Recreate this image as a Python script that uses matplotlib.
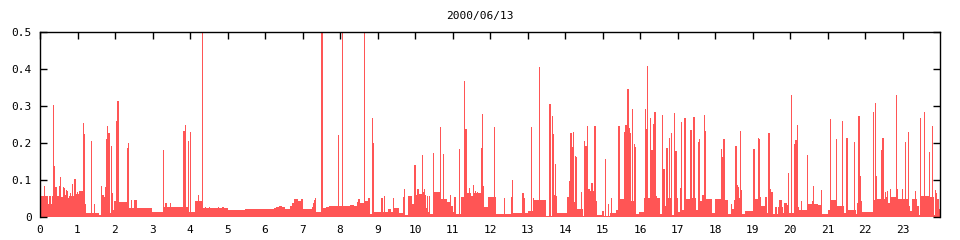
import matplotlib
matplotlib.use('Agg')
import matplotlib.pyplot as plt
import numpy as np

# background level: (start hour, value) step segments
base_t = [0.00, 0.03, 0.21, 0.24, 0.29, 0.32, 0.55, 0.62, 0.72, 0.78, 0.95, 1.05,
          1.20, 1.23, 1.58, 1.63, 1.70, 1.83, 1.92, 1.95, 1.97, 2.08, 2.37, 2.99,
          3.27, 3.98, 4.18, 4.34, 5.00, 5.47, 6.24, 6.30, 6.37, 6.45, 6.52, 6.67,
          6.72, 6.77, 6.88, 6.96, 7.01, 7.25, 7.28, 7.30, 7.33, 7.36, 7.55, 7.63,
          7.70, 7.80, 8.27, 8.37, 8.45, 8.48, 8.53, 8.67, 8.74, 8.80, 8.91, 9.10,
          9.15, 9.28, 9.35, 9.45, 9.58, 9.68, 9.73, 9.82, 9.93, 10.02, 10.12, 10.23,
          10.28, 10.31, 10.35, 10.37, 10.40, 10.50, 10.70, 10.85, 10.95, 11.00, 11.03, 11.08,
          11.22, 11.38, 11.50, 11.58, 11.83, 11.95, 12.15, 12.62, 12.75, 13.00, 13.15, 13.50,
          13.75, 14.05, 14.30, 14.47, 14.55, 14.78, 14.84, 14.98, 15.05, 15.20, 15.35, 15.42,
          15.47, 15.56, 15.60, 15.66, 15.73, 15.76, 15.83, 15.88, 15.98, 16.10, 16.31, 16.44,
          16.52, 16.62, 16.64, 16.70, 16.85, 16.92, 16.98, 17.00, 17.07, 17.12, 17.23, 17.32,
          17.38, 17.48, 17.52, 17.58, 17.60, 17.66, 17.74, 17.91, 17.99, 18.20, 18.27, 18.35,
          18.42, 18.45, 18.51, 18.61, 18.63, 18.70, 18.72, 18.80, 19.06, 19.08, 19.20, 19.23,
          19.32, 19.38, 19.41, 19.46, 19.55, 19.60, 19.65, 19.68, 19.70, 19.78, 19.80, 19.84,
          19.92, 19.97, 20.06, 20.13, 20.18, 20.23, 20.48, 20.75, 20.86, 21.00, 21.02, 21.09,
          21.26, 21.45, 21.55, 21.75, 21.78, 21.90, 21.92, 22.25, 22.30, 22.52, 22.60, 22.68,
          22.85, 23.17, 23.21, 23.25, 23.38, 23.44, 23.50, 23.70, 23.83, 23.88, 23.93, 23.96]
base_v = [0.025, 0.056, 0.034, 0.056, 0.035, 0.058, 0.053, 0.060, 0.052, 0.058, 0.062, 0.070,
          0.035, 0.010, 0.006, 0.060, 0.055, 0.011, 0.065, 0.019, 0.043, 0.040, 0.024, 0.014,
          0.027, 0.014, 0.042, 0.024, 0.019, 0.022, 0.024, 0.027, 0.030, 0.026, 0.022, 0.030,
          0.037, 0.049, 0.044, 0.049, 0.022, 0.027, 0.038, 0.046, 0.051, 0.014, 0.024, 0.027,
          0.029, 0.030, 0.032, 0.030, 0.040, 0.049, 0.038, 0.044, 0.051, 0.009, 0.014, 0.051,
          0.013, 0.022, 0.013, 0.024, 0.012, 0.055, 0.005, 0.056, 0.035, 0.014, 0.063, 0.060,
          0.024, 0.057, 0.014, 0.057, 0.008, 0.068, 0.050, 0.040, 0.030, 0.014, 0.055, 0.008,
          0.054, 0.065, 0.056, 0.066, 0.027, 0.055, 0.008, 0.012, 0.010, 0.016, 0.045, 0.004,
          0.012, 0.012, 0.022, 0.004, 0.070, 0.042, 0.005, 0.016, 0.004, 0.012, 0.019, 0.004,
          0.050, 0.230, 0.250, 0.240, 0.228, 0.043, 0.190, 0.008, 0.014, 0.051, 0.057, 0.051,
          0.008, 0.084, 0.030, 0.051, 0.005, 0.070, 0.051, 0.014, 0.078, 0.020, 0.049, 0.042,
          0.051, 0.020, 0.020, 0.005, 0.043, 0.059, 0.050, 0.011, 0.049, 0.008, 0.047, 0.009,
          0.035, 0.021, 0.046, 0.080, 0.051, 0.073, 0.008, 0.016, 0.022, 0.050, 0.055, 0.030,
          0.054, 0.010, 0.035, 0.068, 0.008, 0.027, 0.008, 0.027, 0.045, 0.027, 0.010, 0.038,
          0.032, 0.012, 0.012, 0.050, 0.027, 0.019, 0.035, 0.032, 0.008, 0.049, 0.019, 0.046,
          0.030, 0.010, 0.019, 0.008, 0.037, 0.043, 0.014, 0.046, 0.050, 0.055, 0.038, 0.055,
          0.050, 0.030, 0.015, 0.050, 0.030, 0.006, 0.058, 0.055, 0.005, 0.065, 0.050, 0.022]

# narrow peaks: (hour, value)
spike_t = [0.13, 0.35, 0.38, 0.41, 0.44, 0.52, 0.55, 0.63, 0.66, 0.71, 0.74, 0.82, 0.87, 0.92,
           0.95, 1.00, 1.16, 1.18, 1.37, 1.45, 1.65, 1.75, 1.78, 1.81, 1.84, 1.91, 2.05, 2.08,
           2.33, 2.36, 2.43, 2.53, 2.56, 3.29, 3.36, 3.48, 3.84, 3.87, 3.89, 3.95, 4.01, 4.16,
           4.23, 4.33, 4.42, 4.53, 4.75, 4.88, 7.52, 7.96, 8.07, 8.65, 8.87, 8.90, 9.19, 9.42,
           9.71, 9.98, 10.00, 10.03, 10.08, 10.20, 10.23, 10.26, 10.49, 10.67, 10.75, 10.84, 10.94,
           11.19, 11.33, 11.36, 11.38, 11.46, 11.55, 11.62, 11.66, 11.77, 11.79, 11.82, 12.12,
           12.39, 12.58, 12.61, 12.88, 12.93, 13.11, 13.17, 13.33, 13.60, 13.66, 13.68, 13.71,
           13.74, 13.77, 14.08, 14.13, 14.16, 14.19, 14.22, 14.24, 14.27, 14.30, 14.45, 14.53,
           14.56, 14.59, 14.61, 14.64, 14.72, 14.80, 15.07, 15.17, 15.23, 15.44, 15.68, 15.79,
           15.85, 15.87, 16.14, 16.16, 16.19, 16.21, 16.29, 16.32, 16.37, 16.40, 16.59, 16.61,
           16.64, 16.72, 16.78, 16.83, 16.91, 16.96, 17.10, 17.20, 17.22, 17.36, 17.38, 17.44,
           17.55, 17.58, 17.71, 17.74, 18.17, 18.20, 18.24, 18.56, 18.60, 18.67, 18.69, 19.04,
           19.15, 19.18, 19.44, 19.46, 19.49, 19.51, 19.95, 20.03, 20.05, 20.11, 20.16, 20.21,
           20.30, 20.47, 20.60, 20.63, 20.83, 21.07, 21.24, 21.41, 21.52, 21.73, 21.84, 21.86,
           21.89, 22.22, 22.27, 22.30, 22.43, 22.48, 22.54, 22.61, 22.68, 22.83, 22.86, 23.00,
           23.09, 23.15, 23.34, 23.48, 23.59, 23.73, 23.81, 23.89]
spike_v = [0.083, 0.303, 0.139, 0.080, 0.080, 0.084, 0.108, 0.081, 0.079, 0.073, 0.070, 0.065,
           0.089, 0.103, 0.103, 0.068, 0.254, 0.224, 0.205, 0.035, 0.084, 0.081, 0.210, 0.246,
           0.227, 0.192, 0.260, 0.313, 0.187, 0.200, 0.047, 0.047, 0.047, 0.181, 0.038, 0.038,
           0.232, 0.049, 0.248, 0.205, 0.229, 0.043, 0.059, 0.500, 0.027, 0.027, 0.028, 0.028,
           0.500, 0.222, 0.500, 0.500, 0.268, 0.200, 0.057, 0.051, 0.076, 0.135, 0.141, 0.060,
           0.076, 0.168, 0.067, 0.076, 0.173, 0.243, 0.170, 0.046, 0.059, 0.184, 0.368, 0.238,
           0.230, 0.078, 0.086, 0.070, 0.068, 0.186, 0.278, 0.084, 0.243, 0.051, 0.054, 0.100,
           0.066, 0.051, 0.243, 0.051, 0.405, 0.305, 0.273, 0.224, 0.059, 0.143, 0.057, 0.054,
           0.097, 0.227, 0.190, 0.230, 0.041, 0.165, 0.162, 0.068, 0.205, 0.192, 0.246, 0.068,
           0.076, 0.092, 0.246, 0.157, 0.035, 0.051, 0.246, 0.346, 0.292, 0.198, 0.184, 0.292,
           0.238, 0.232, 0.408, 0.268, 0.180, 0.251, 0.283, 0.275, 0.084, 0.130, 0.186, 0.214,
           0.227, 0.281, 0.178, 0.258, 0.268, 0.246, 0.234, 0.138, 0.270, 0.203, 0.211, 0.275,
           0.232, 0.184, 0.162, 0.211, 0.192, 0.086, 0.232, 0.073, 0.184, 0.214, 0.211, 0.227,
           0.068, 0.075, 0.065, 0.120, 0.330, 0.165, 0.198, 0.209, 0.249, 0.043, 0.168, 0.043,
           0.084, 0.073, 0.265, 0.211, 0.260, 0.214, 0.203, 0.272, 0.251, 0.111, 0.284, 0.308,
           0.111, 0.180, 0.214, 0.068, 0.070, 0.075, 0.330, 0.076, 0.076, 0.203, 0.230, 0.070,
           0.268, 0.284, 0.176, 0.246, 0.073]

hour_ticks = list(range(0, 24))
value_ticks = [0, 0.1, 0.2, 0.3, 0.4, 0.5]
value_labels = ['0', '0.1', '0.2', '0.3', '0.4', '0.5']
title = '2000/06/13'

color = '#ff5555'
plt.rcParams['font.family'] = 'DejaVu Sans Mono'

fig = plt.figure(figsize=(9.6, 2.4), dpi=100)
ax = fig.add_axes([40 / 960, 23 / 240, 900 / 960, 185 / 240])

# background level as stairs, peaks as 1-pixel bars (crisp, like the original bitmap)
ax.stairs(base_v, base_t + [24.0], fill=True, color=color, lw=0, antialiased=False)
ax.bar(spike_t, spike_v, width=0.0267, color=color, linewidth=0, antialiased=False)

ax.set_xlim(0, 24)
ax.set_ylim(0, 0.5)
ax.set_xticks(hour_ticks)
ax.set_xticklabels([str(h) for h in hour_ticks])
ax.set_yticks(value_ticks)
ax.set_yticklabels(value_labels)

ax.spines['bottom'].set_visible(False)
for s in ['left', 'right', 'top']:
    ax.spines[s].set_linewidth(1.0)
    ax.spines[s].set_color('black')

# ticks on top/left/right point inward, bottom ones are hidden under the fill
ax.tick_params(axis='x', direction='in', length=5, width=1, pad=5.5, labelsize=8,
               bottom=False, top=True, labelbottom=True, labeltop=False)
ax.tick_params(axis='y', direction='in', length=5, width=1, pad=6, labelsize=8,
               left=True, right=True)

fig.text(480 / 960, 1 - 15.5 / 240, title, ha='center', va='center', fontsize=8)

fig.savefig('out.png', dpi=100)
